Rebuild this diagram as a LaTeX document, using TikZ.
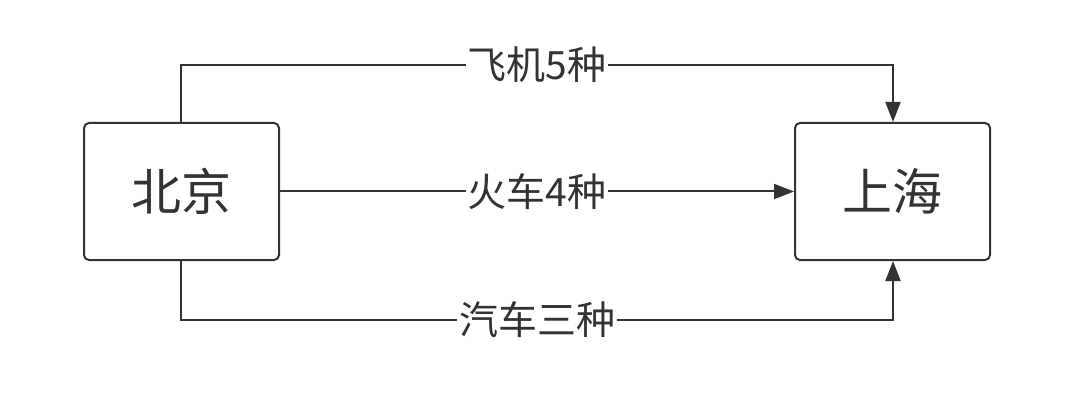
\documentclass[tikz,border=0pt]{standalone}
\usepackage{fontspec}
\setmainfont{Noto Sans CJK SC}
\usetikzlibrary{arrows.meta}
\definecolor{ink}{HTML}{333333}
\tikzset{
  box/.style={draw=ink,line width=2pt,rounded corners=5pt,minimum width=195pt,minimum height=137pt,text=ink,font=\fontsize{50}{54}\selectfont},
  conn/.style={draw=ink,line width=2pt,-{Triangle[length=20pt,width=15pt]}},
  lbl/.style={fill=white,text=ink,font=\fontsize{39}{42}\selectfont,inner sep=2pt}
}
\begin{document}
\begin{tikzpicture}[x=1pt,y=-1pt]
\useasboundingbox (0,0) rectangle (1080,401);
\node[box] (bj) at (181.5,191.5) {北京};
\node[box] (sh) at (892.5,191.5) {上海};
\coordinate (t1) at (181,65);
\coordinate (t2) at (893,65);
\coordinate (b1) at (181,320);
\coordinate (b2) at (893,320);
\draw[conn] (bj.north -| t1) -- (t1) -- node[lbl]{飞机5种} (t2) -- (sh.north -| t2);
\draw[conn] (bj.east) -- node[lbl]{火车4种} (sh.west);
\draw[conn] (bj.south -| b1) -- (b1) -- node[lbl]{汽车三种} (b2) -- (sh.south -| b2);
\end{tikzpicture}
\end{document}
